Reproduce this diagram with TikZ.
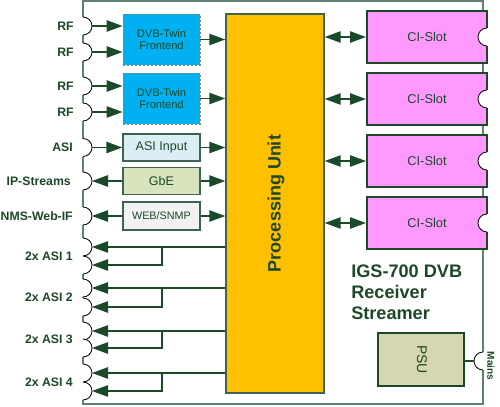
\documentclass[tikz,border=0pt]{standalone}
\usepackage{fontspec}
\setmainfont{Liberation Sans}
\usetikzlibrary{arrows.meta}
\definecolor{tgreen}{RGB}{28,72,40}
\definecolor{agreen}{RGB}{26,74,42}
\definecolor{bord}{RGB}{96,128,112}
\definecolor{dvbfill}{RGB}{0,176,240}
\definecolor{pufill}{RGB}{255,192,0}
\definecolor{cifill}{RGB}{255,153,255}
\definecolor{asifill}{RGB}{218,238,243}
\definecolor{gbefill}{RGB}{215,228,189}
\definecolor{webfill}{RGB}{242,242,242}
\definecolor{psufill}{RGB}{214,214,176}
\definecolor{boxbord}{RGB}{60,100,80}
\begin{document}
\begin{tikzpicture}[x=0.75pt,y=-0.75pt,
  lbl/.style={font=\bfseries\fontsize{9.2}{11}\selectfont, text=tgreen, anchor=east, inner sep=0pt},
  arr/.style={draw=agreen, line width=1.2pt, -{Triangle[length=12pt,width=8.5pt]}},
  darr/.style={draw=agreen, line width=1.2pt, {Triangle[length=12pt,width=8.5pt]}-{Triangle[length=12pt,width=8.5pt]}},
  box/.style={rectangle, inner sep=0pt, text=tgreen, align=center},
  dvb/.style={box, fill=dvbfill, draw=gray, dash pattern=on 1.5pt off 1.5pt, line width=0.6pt, minimum width=57.75pt, minimum height=38.25pt, font=\fontsize{8.3}{9.6}\selectfont},
  inbox/.style={box, draw=boxbord, line width=1.1pt, minimum width=57.75pt, minimum height=20pt},
  ci/.style={box, fill=cifill, draw=tgreen, line width=1.5pt, minimum width=90pt, minimum height=39pt, font=\fontsize{9.6}{11}\selectfont},
  bump/.style={draw=black, line width=0.6pt},
  title/.style={font=\bfseries\fontsize{13.6}{16}\selectfont, text=tgreen, anchor=base west, inner sep=0pt},
]
\useasboundingbox (0,0) rectangle (500,407);
% outer frame
\draw[bord, line width=1.1pt] (83,1) rectangle (483,404);
% left connector bumps
\foreach \y in {26,52,86,112,147.5,181,216,247,265,288,307,331,348,373,391}{
  \draw[white, line width=2pt] (83,\y-9) -- (83,\y+9);
  \draw[bump] (83,\y-9) arc[start angle=-90, end angle=90, radius=9];
}
% labels
\node[lbl] (lrf1) at (74,26) {RF};
\node[lbl] (lrf2) at (74,52) {RF};
\node[lbl] (lrf3) at (74,86) {RF};
\node[lbl] (lrf4) at (74,112) {RF};
\node[lbl] (lasi) at (73,147.5) {ASI};
\node[lbl] (lip) at (71,181) {IP-Streams};
\node[lbl] (lnms) at (73,216) {NMS-Web-IF};
\node[lbl] (lo1) at (73,256) {2x ASI 1};
\node[lbl] (lo2) at (73,297.5) {2x ASI 2};
\node[lbl] (lo3) at (73,339.5) {2x ASI 3};
\node[lbl] (lo4) at (73,382) {2x ASI 4};
% connector points
\coordinate (c1) at (92,26);
\coordinate (c2) at (92,52);
\coordinate (c3) at (92,86);
\coordinate (c4) at (92,112);
\coordinate (casi) at (92,147.5);
\coordinate (cip) at (92,181);
\coordinate (cnms) at (92,216);
\coordinate (o1a) at (92,247);
\coordinate (o1b) at (92,265);
\coordinate (o2a) at (92,288);
\coordinate (o2b) at (92,307);
\coordinate (o3a) at (92,331);
\coordinate (o3b) at (92,348);
\coordinate (o4a) at (92,373);
\coordinate (o4b) at (92,391);
\coordinate (b1) at (162,247);
\coordinate (b2) at (162,288);
\coordinate (b3) at (162,331);
\coordinate (b4) at (162,373);
% boxes
\node[dvb] (dvb1) at (161.5,39.5) {DVB-Twin\\Frontend};
\node[dvb] (dvb2) at (161.5,98.5) {DVB-Twin\\Frontend};
\node[inbox, fill=asifill, font=\fontsize{9.4}{11}\selectfont] (asiin) at (161.5,147.5) {ASI Input};
\node[inbox, fill=gbefill, font=\fontsize{9.4}{11}\selectfont] (gbe) at (161.5,181) {GbE};
\node[inbox, fill=webfill, minimum height=21pt, font=\fontsize{8.1}{10}\selectfont] (web) at (161.5,216) {WEB/SNMP};
\node[box, fill=pufill, draw=boxbord, line width=1.1pt, minimum width=73.5pt, minimum height=284.25pt] (pu) at (275,203.5) {};
\node[rotate=90, font=\bfseries\fontsize{13.5}{16}\selectfont, text=tgreen, inner sep=0pt] (putext) at (276,203.5) {Processing Unit};
\node[ci] (ci1) at (427,37) {CI-Slot};
\node[ci] (ci2) at (427,99) {CI-Slot};
\node[ci] (ci3) at (427,161) {CI-Slot};
\node[ci] (ci4) at (427,223) {CI-Slot};
% CI notches
\foreach \y in {37,99,161,223}{
  \draw[white, line width=2.2pt] (487,\y-9) -- (487,\y+9);
  \filldraw[fill=white, draw=black, line width=0.6pt] (487,\y-9) arc[start angle=-90, end angle=-270, radius=9];
}
% PSU
\node[box, fill=psufill, draw=tgreen, line width=1.5pt, minimum width=64.5pt, minimum height=39.75pt] (psu) at (421,359.5) {};
\node[rotate=-90, font=\fontsize{10.5}{12}\selectfont, text=tgreen, inner sep=0pt] (psutext) at (422,359.5) {PSU};
\draw[white, line width=2pt] (483,352) -- (483,370);
\draw[bump] (483,352) arc[start angle=-90, end angle=-270, radius=9];
\coordinate (mains) at (474,361);
\draw[agreen, line width=0.8pt] (psu.east |- mains) -- (mains);
\node[rotate=-90, font=\bfseries\fontsize{7.5}{9}\selectfont, text=tgreen, inner sep=0pt] (mainslbl) at (491,366) {Mains};
% title
\node[title] (t1) at (351,277) {IGS-700 DVB};
\node[title] (t2) at (351,298) {Receiver};
\node[title] (t3) at (351,319) {Streamer};
% arrows
\draw[arr] (c1) -- (dvb1.west |- c1);
\draw[arr] (c2) -- (dvb1.west |- c2);
\draw[arr] (c3) -- (dvb2.west |- c3);
\draw[arr] (c4) -- (dvb2.west |- c4);
\draw[arr] (dvb1.east) -- (pu.west |- dvb1.east);
\draw[arr] (dvb2.east) -- (pu.west |- dvb2.east);
\draw[arr] (casi) -- (asiin.west);
\draw[arr] (asiin.east) -- (pu.west |- asiin.east);
\draw[arr] (gbe.west) -- (cip);
\draw[arr] (gbe.east) -- (pu.west |- gbe.east);
\draw[arr] (web.west) -- (cnms);
\draw[arr] (web.east) -- (pu.west |- web.east);
\draw[arr] (pu.west |- o1a) -- (o1a);
\draw[arr] (b1) |- (o1b);
\draw[arr] (pu.west |- o2a) -- (o2a);
\draw[arr] (b2) |- (o2b);
\draw[arr] (pu.west |- o3a) -- (o3a);
\draw[arr] (b3) |- (o3b);
\draw[arr] (pu.west |- o4a) -- (o4a);
\draw[arr] (b4) |- (o4b);
\draw[darr] (pu.east |- ci1.west) -- (ci1.west);
\draw[darr] (pu.east |- ci2.west) -- (ci2.west);
\draw[darr] (pu.east |- ci3.west) -- (ci3.west);
\draw[darr] (pu.east |- ci4.west) -- (ci4.west);
\end{tikzpicture}
\end{document}
